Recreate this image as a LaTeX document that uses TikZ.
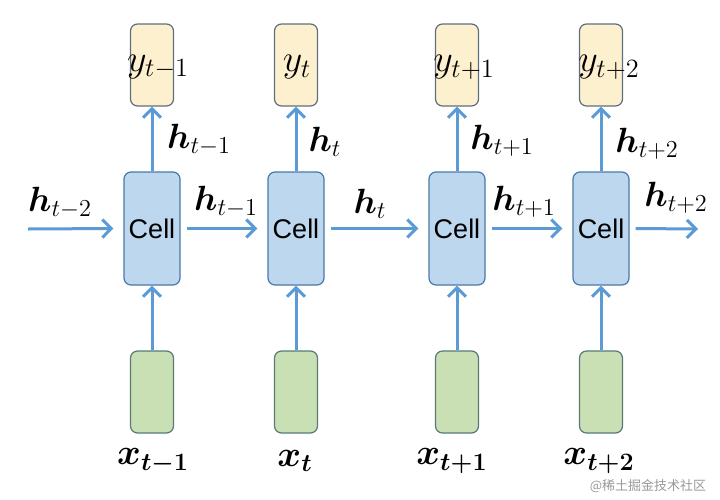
\documentclass[tikz,border=0pt]{standalone}
\usepackage{amsmath}
\usepackage{bm}
\usepackage{fontspec}
\setsansfont{Liberation Sans}
\newfontfamily\cjk{Noto Sans CJK SC}
\usetikzlibrary{arrows.meta}
\definecolor{arr}{HTML}{5B9BD5}
\definecolor{cellfill}{HTML}{BDD7EE}
\definecolor{celldraw}{HTML}{4A78A8}
\definecolor{yfill}{HTML}{FDF0CF}
\definecolor{ydraw}{HTML}{5E6E80}
\definecolor{xfill}{HTML}{C8E0B4}
\definecolor{xdraw}{HTML}{587A70}
\newcommand{\bigmath}[2]{\scalebox{#1}{\fontsize{20.74}{24}\selectfont$#2$}}
\tikzset{
  cellbox/.style={draw=celldraw,fill=cellfill,line width=1.2pt,rounded corners=7pt,minimum width=56pt,minimum height=113pt,inner sep=0pt,font=\sffamily\fontsize{27}{30}\selectfont},
  ybox/.style={draw=ydraw,fill=yfill,line width=1.2pt,rounded corners=7pt,minimum width=43pt,minimum height=82pt,inner sep=0pt},
  xbox/.style={draw=xdraw,fill=xfill,line width=1.2pt,rounded corners=7pt,minimum width=43pt,minimum height=82pt,inner sep=0pt},
  flow/.style={draw=arr,line width=3pt,-{Straight Barb[length=9pt,width=18pt,line width=3pt]}},
  lab/.style={inner sep=0pt},
}
\begin{document}
\begin{tikzpicture}[x=1pt,y=-1pt]
\useasboundingbox (0,0) rectangle (720,499);
% columns
\foreach \n/\cx in {1/152,2/296,3/457,4/601}{
  \node[cellbox] (c\n) at (\cx,228.5) {Cell};
  \node[ybox] (y\n) at (\cx,65) {};
  \node[xbox] (x\n) at (\cx,392) {};
}
% y labels (overlapping boxes)
\node[lab] (ly1) at (158,67) {\bigmath{1.83}{y_{t-1}}};
\node[lab] (ly2) at (297,67) {\bigmath{1.83}{y_{t}}};
\node[lab] (ly3) at (464,67) {\bigmath{1.83}{y_{t+1}}};
\node[lab] (ly4) at (609,67) {\bigmath{1.83}{y_{t+2}}};
% x labels
\node[lab] (lx1) at (153,461) {\bigmath{1.74}{\bm{x_{t-1}}}};
\node[lab] (lx2) at (295,461) {\bigmath{1.74}{\bm{x_{t}}}};
\node[lab] (lx3) at (452,461) {\bigmath{1.74}{\bm{x_{t+1}}}};
\node[lab] (lx4) at (599,461) {\bigmath{1.74}{\bm{x_{t+2}}}};
% vertical arrows
\foreach \n in {1,2,3,4}{
  \draw[flow] (x\n.north) -- (c\n.south);
  \draw[flow] (c\n.north) -- (y\n.south);
}
% horizontal arrows
\coordinate (start) at (28,229);
\coordinate (end) at (698,229);
\draw[flow] (start) -- ([xshift=-10pt]c1.west);
\draw[flow] ([xshift=6pt]c1.east) -- ([xshift=-10pt]c2.west);
\draw[flow] ([xshift=6pt]c2.east) -- ([xshift=-10pt]c3.west);
\draw[flow] ([xshift=6pt]c3.east) -- ([xshift=-10pt]c4.west);
\draw[flow] ([xshift=6pt]c4.east) -- (end);
% horizontal labels
\node[lab] (h0) at (60,203) {\bigmath{1.69}{\bm{h}_{t-2}}};
\node[lab] (h1) at (226,202) {\bigmath{1.69}{\bm{h}_{t-1}}};
\node[lab] (h2) at (370,204) {\bigmath{1.69}{\bm{h}_{t}}};
\node[lab] (h3) at (524,202) {\bigmath{1.69}{\bm{h}_{t+1}}};
\node[lab] (h4) at (676,198) {\bigmath{1.69}{\bm{h}_{t+2}}};
% vertical labels
\node[lab] (v1) at (199,140) {\bigmath{1.69}{\bm{h}_{t-1}}};
\node[lab] (v2) at (325,142) {\bigmath{1.69}{\bm{h}_{t}}};
\node[lab] (v3) at (502,141) {\bigmath{1.69}{\bm{h}_{t+1}}};
\node[lab] (v4) at (647,144) {\bigmath{1.69}{\bm{h}_{t+2}}};
% watermark
\node[inner sep=0pt,text=black!40,font=\cjk\fontsize{13}{15}\selectfont] (wm) at (648,486) {@稀土掘金技术社区};
\end{tikzpicture}
\end{document}
